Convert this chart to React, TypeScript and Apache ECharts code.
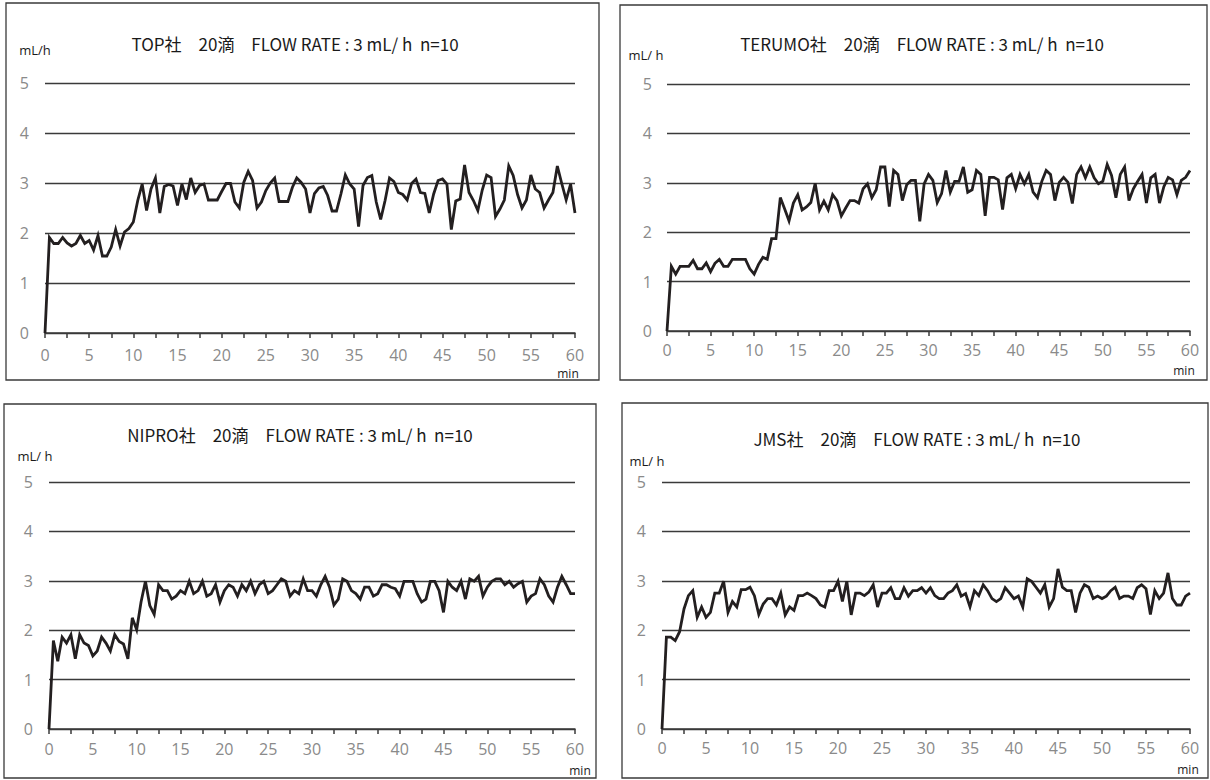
import React, { useEffect, useRef } from "react";
import * as echarts from "echarts";

// Flow rate readings every 0.5 min from 0 to 60 min (mL/h)
const topValues = [
  0, 1.91, 1.79, 1.79, 1.91, 1.8, 1.74, 1.79, 1.95, 1.79, 1.85, 1.66, 1.95, 1.54, 1.54, 1.72, 2.07, 1.74, 2.02, 2.09,
  2.22, 2.65, 2.98, 2.45, 2.88, 3.1, 2.4, 2.93, 2.97, 2.94, 2.55, 2.98, 2.67, 3.1, 2.81, 2.95, 2.98, 2.66, 2.66, 2.66,
  2.83, 2.99, 2.99, 2.62, 2.5, 3.01, 3.23, 3.05, 2.5, 2.62, 2.85, 3.0, 3.1, 2.63, 2.63, 2.63, 2.91, 3.1, 3.01, 2.88,
  2.4, 2.79, 2.9, 2.93, 2.75, 2.44, 2.44, 2.78, 3.16, 2.98, 2.88, 2.13, 2.95, 3.11, 3.15, 2.62, 2.27, 2.65, 3.1, 3.03,
  2.81, 2.77, 2.66, 2.99, 3.08, 2.81, 2.79, 2.4, 2.78, 3.05, 3.08, 2.98, 2.07, 2.64, 2.68, 3.36, 2.81, 2.65, 2.45, 2.86,
  3.16, 3.11, 2.33, 2.48, 2.66, 3.34, 3.15, 2.77, 2.5, 2.66, 3.16, 2.88, 2.81, 2.5, 2.66, 2.81, 3.34, 2.99, 2.66, 2.98,
  2.4,
];

const terumoValues = [
  0, 1.31, 1.15, 1.31, 1.31, 1.31, 1.43, 1.26, 1.26, 1.38, 1.2, 1.37, 1.45, 1.31, 1.31, 1.45, 1.45, 1.45, 1.45, 1.26,
  1.15, 1.35, 1.49, 1.45, 1.87, 1.87, 2.7, 2.47, 2.23, 2.59, 2.76, 2.45, 2.51, 2.6, 2.99, 2.45, 2.63, 2.45, 2.76, 2.64,
  2.33, 2.49, 2.64, 2.64, 2.59, 2.88, 2.98, 2.7, 2.86, 3.32, 3.32, 2.52, 3.25, 3.17, 2.64, 2.96, 3.05, 3.05, 2.22, 2.98,
  3.17, 3.05, 2.6, 2.78, 3.25, 2.81, 3.03, 3.03, 3.32, 2.81, 2.86, 3.25, 3.17, 2.33, 3.11, 3.11, 3.06, 2.46, 3.1, 3.17,
  2.88, 3.17, 2.98, 3.17, 2.81, 2.7, 3.03, 3.25, 3.17, 2.64, 3.01, 3.11, 3.01, 2.58, 3.17, 3.32, 3.1, 3.32, 3.1, 2.98,
  3.03, 3.37, 3.15, 2.7, 3.17, 3.32, 2.64, 2.88, 3.03, 3.17, 2.59, 3.1, 3.17, 2.59, 2.92, 3.11, 3.06, 2.76, 3.05, 3.11,
  3.25,
];

const niproValues = [
  0, 1.79, 1.37, 1.86, 1.74, 1.91, 1.42, 1.91, 1.74, 1.69, 1.48, 1.58, 1.86, 1.74, 1.58, 1.91, 1.77, 1.72, 1.42, 2.25,
  2.01, 2.57, 2.99, 2.5, 2.32, 2.92, 2.8, 2.8, 2.63, 2.69, 2.8, 2.74, 2.99, 2.74, 2.8, 2.99, 2.69, 2.74, 2.92, 2.57,
  2.8, 2.92, 2.87, 2.69, 2.92, 2.8, 2.99, 2.74, 2.92, 2.99, 2.74, 2.8, 2.92, 3.04, 2.99, 2.69, 2.8, 2.74, 3.04, 2.8,
  2.8, 2.69, 2.92, 3.09, 2.87, 2.51, 2.63, 3.04, 2.99, 2.8, 2.74, 2.63, 2.87, 2.87, 2.69, 2.74, 2.92, 2.92, 2.87, 2.84,
  2.69, 2.99, 2.99, 2.99, 2.74, 2.57, 2.63, 2.99, 2.99, 2.8, 2.36, 2.99, 2.87, 2.8, 2.99, 2.63, 3.04, 2.99, 3.09, 2.69,
  2.87, 2.99, 3.04, 3.04, 2.92, 2.99, 2.87, 2.94, 2.99, 2.57, 2.69, 2.74, 3.04, 2.92, 2.69, 2.57, 2.87, 3.09, 2.92, 2.74,
  2.74,
];

const jmsValues = [
  0, 1.86, 1.86, 1.79, 1.97, 2.43, 2.7, 2.8, 2.26, 2.47, 2.26, 2.36, 2.75, 2.75, 2.99, 2.36, 2.58, 2.47, 2.82, 2.82,
  2.87, 2.7, 2.32, 2.53, 2.64, 2.64, 2.51, 2.75, 2.31, 2.47, 2.4, 2.7, 2.7, 2.75, 2.7, 2.64, 2.51, 2.47, 2.8, 2.8,
  2.99, 2.58, 2.99, 2.31, 2.75, 2.75, 2.7, 2.77, 2.92, 2.47, 2.75, 2.75, 2.86, 2.64, 2.64, 2.86, 2.69, 2.8, 2.8, 2.86,
  2.75, 2.86, 2.7, 2.64, 2.64, 2.75, 2.8, 2.92, 2.69, 2.74, 2.47, 2.8, 2.7, 2.92, 2.8, 2.64, 2.58, 2.64, 2.86, 2.75,
  2.64, 2.69, 2.47, 3.04, 2.99, 2.87, 2.75, 2.92, 2.47, 2.64, 3.24, 2.87, 2.8, 2.8, 2.36, 2.75, 2.92, 2.87, 2.64, 2.69,
  2.64, 2.69, 2.8, 2.87, 2.64, 2.69, 2.69, 2.64, 2.86, 2.92, 2.84, 2.32, 2.8, 2.64, 2.75, 3.16, 2.64, 2.51, 2.51, 2.69,
  2.75,
];

const sampleStepMin = 0.5;
const xTickLabels = [0, 5, 10, 15, 20, 25, 30, 35, 40, 45, 50, 55, 60];
const yTickLabels = [0, 1, 2, 3, 4, 5];

const titles = [
  "TOP社　20滴　FLOW RATE : 3 mL/ h  n=10",
  "TERUMO社　20滴　FLOW RATE : 3 mL/ h  n=10",
  "NIPRO社　20滴　FLOW RATE : 3 mL/ h  n=10",
  "JMS社　20滴　FLOW RATE : 3 mL/ h  n=10",
];
const unitY = ["mL/h", "mL/ h", "mL/ h", "mL/ h"];
const seriesValues = [topValues, terumoValues, niproValues, jmsValues];

// Layout of each panel: frame, plot area and text anchors
const panels = [
  { box: [6, 3, 593, 377], grid: [45, 83, 530, 250], title: [295, 43], unit: [35, 50], min: [568, 373], xMargin: 14, yMargin: 16 },
  { box: [620, 5, 587, 375], grid: [667, 84, 523, 247], title: [922, 43], unit: [646, 55], min: [1184, 370], xMargin: 11, yMargin: 15 },
  { box: [4, 404, 592, 374], grid: [49, 482, 526, 247], title: [300, 434], unit: [35, 456], min: [580, 770], xMargin: 12, yMargin: 16 },
  { box: [622, 403, 586, 375], grid: [662, 482, 528, 247], title: [917, 438], unit: [647, 461], min: [1188, 769], xMargin: 11, yMargin: 16 },
];

const labelFont = "'Open Sans', 'Noto Sans', sans-serif";
const cjkFont = "'Noto Sans CJK JP', 'Noto Sans', sans-serif";

export default function App() {
  const ref = useRef<HTMLDivElement>(null);

  useEffect(() => {
    if (!ref.current) return;
    const chart = echarts.init(ref.current, null, { renderer: "svg" });

    const grids = panels.map((p) => ({
      left: p.grid[0],
      top: p.grid[1],
      width: p.grid[2],
      height: p.grid[3],
      containLabel: false,
    }));

    const xAxes = panels.map((p, i) => ({
      type: "value",
      gridIndex: i,
      min: 0,
      max: 60,
      interval: 2.5,
      axisLine: { show: true, lineStyle: { color: "#3a3a3a", width: 1.5 } },
      axisTick: { show: true, length: 5, lineStyle: { color: "#3a3a3a", width: 1.5 } },
      splitLine: { show: false },
      axisLabel: {
        margin: p.xMargin,
        color: "#8a8a8a",
        fontSize: 16,
        fontFamily: labelFont,
        formatter: (v: number) => (xTickLabels.includes(v) ? String(v) : ""),
      },
    }));

    const yAxes = panels.map((p, i) => ({
      type: "value",
      gridIndex: i,
      min: 0,
      max: 5,
      interval: 1,
      axisLine: { show: false },
      axisTick: { show: false },
      splitLine: { show: true, lineStyle: { color: "#3a3a3a", width: 1.4 } },
      axisLabel: {
        margin: p.yMargin,
        color: "#8a8a8a",
        fontSize: 16,
        fontFamily: labelFont,
        formatter: (v: number) => (yTickLabels.includes(v) ? String(v) : ""),
      },
    }));

    const series = seriesValues.map((vals, i) => ({
      type: "line",
      xAxisIndex: i,
      yAxisIndex: i,
      data: vals.map((v, k) => [k * sampleStepMin, v]),
      showSymbol: false,
      symbol: "none",
      lineStyle: { color: "#231f20", width: 2.8, join: "miter" },
      z: 5,
    }));

    const graphic: any[] = [];
    panels.forEach((p, i) => {
      graphic.push({
        type: "rect",
        shape: { x: p.box[0], y: p.box[1], width: p.box[2], height: p.box[3] },
        style: { fill: "none", stroke: "#3a3a3a", lineWidth: 1.3 },
        silent: true,
      });
      graphic.push({
        type: "text",
        x: p.title[0],
        y: p.title[1],
        style: {
          text: titles[i],
          fill: "#1a1a1a",
          fontSize: 17,
          fontWeight: "normal",
          fontFamily: cjkFont,
          textAlign: "center",
          textVerticalAlign: "middle",
        },
      });
      graphic.push({
        type: "text",
        x: p.unit[0],
        y: p.unit[1],
        style: {
          text: unitY[i],
          fill: "#1a1a1a",
          fontSize: 13,
          fontFamily: labelFont,
          textAlign: "center",
          textVerticalAlign: "middle",
        },
      });
      graphic.push({
        type: "text",
        x: p.min[0],
        y: p.min[1],
        style: {
          text: "min",
          fill: "#1a1a1a",
          fontSize: 12,
          fontFamily: labelFont,
          textAlign: "center",
          textVerticalAlign: "middle",
        },
      });
    });

    chart.setOption({
      animation: false,
      backgroundColor: "#ffffff",
      grid: grids,
      xAxis: xAxes,
      yAxis: yAxes,
      series,
      graphic,
    });

    return () => chart.dispose();
  }, []);

  return (
    <div
      ref={ref}
      style={{ position: "absolute", left: 0, top: 0, width: 1210, height: 780 }}
    />
  );
}
